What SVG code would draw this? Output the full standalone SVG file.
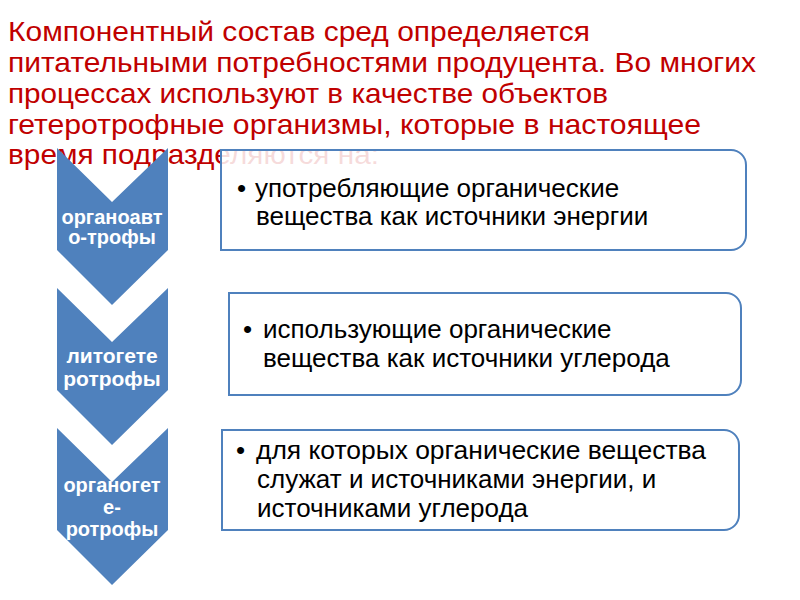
<svg xmlns="http://www.w3.org/2000/svg" width="800" height="600" viewBox="0 0 800 600">
<style>
.title{font-family:"Liberation Sans",Arial,sans-serif;font-size:28px;fill:#C00000}
.chev{fill:#4F81BD}
.ctext{font-family:"Liberation Sans",Arial,sans-serif;font-weight:bold;fill:#FFFFFF;text-anchor:middle}
.box{fill:#FFFFFF;fill-opacity:0.86;stroke:#4F81BD;stroke-width:2}
.btext{font-family:"Liberation Sans",Arial,sans-serif;font-size:26px;fill:#000000}
</style>
<rect width="800" height="600" fill="#FFFFFF"/>
<g id="title">
<text class="title" x="8" y="41" textLength="582" lengthAdjust="spacingAndGlyphs">Компонентный состав сред определяется</text>
<text class="title" x="8" y="72" textLength="748" lengthAdjust="spacingAndGlyphs">питательными потребностями продуцента. Во многих</text>
<text class="title" x="8" y="103" textLength="600" lengthAdjust="spacingAndGlyphs">процессах используют в качестве объектов</text>
<text class="title" x="8" y="134" textLength="693" lengthAdjust="spacingAndGlyphs">гетеротрофные организмы, которые в настоящее</text>
<text class="title" x="8" y="164" textLength="371" lengthAdjust="spacingAndGlyphs">время подразделяются на:</text>
</g>
<g id="connectors"></g>
<g id="chevron1">
<path class="chev" d="M57,148 L112,202 L168,148 L168,250 L112,305 L57,250 Z"/>
<text class="ctext" font-size="20" x="112" y="224">органоавт</text>
<text class="ctext" font-size="20" x="112" y="244">о-трофы</text>
</g>
<g id="chevron2">
<path class="chev" d="M57,288 L112,342 L168,288 L168,390 L112,445 L57,390 Z"/>
<text class="ctext" font-size="21" x="112" y="363">литогете</text>
<text class="ctext" font-size="21" x="112" y="386">ротрофы</text>
</g>
<g id="chevron3">
<path class="chev" d="M57,428 L112,482 L168,428 L168,530 L112,585 L57,530 Z"/>
<text class="ctext" font-size="20" x="112" y="492">органогет</text>
<text class="ctext" font-size="20" x="112" y="514">е-</text>
<text class="ctext" font-size="20" x="112" y="536">ротрофы</text>
</g>
<g id="box1">
<path class="box" d="M221,150 H731 A15,15 0 0 1 746,165 V235 A15,15 0 0 1 731,250 H221 Z"/>
<text class="btext" x="237" y="197">•</text>
<text class="btext" x="255" y="197">употребляющие органические</text>
<text class="btext" x="256" y="225">вещества как источники энергии</text>
</g>
<g id="box2">
<path class="box" d="M229,293 H726 A15,15 0 0 1 741,308 V380 A15,15 0 0 1 726,395 H229 Z"/>
<text class="btext" x="243" y="338">•</text>
<text class="btext" x="263" y="338">использующие органические</text>
<text class="btext" x="263" y="367">вещества как источники углерода</text>
</g>
<g id="box3">
<path class="box" d="M222,430 H724 A15,15 0 0 1 739,445 V515 A15,15 0 0 1 724,530 H222 Z"/>
<text class="btext" x="236" y="459">•</text>
<text class="btext" x="256" y="459" textLength="450" lengthAdjust="spacingAndGlyphs">для которых органические вещества</text>
<text class="btext" x="257" y="488">служат и источниками энергии, и</text>
<text class="btext" x="257" y="517">источниками углерода</text>
</g>
</svg>
